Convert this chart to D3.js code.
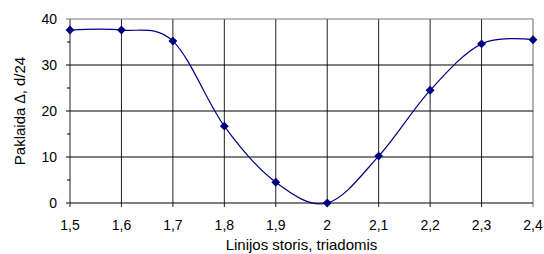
<!DOCTYPE html>
<html>
<head>
<meta charset="utf-8">
<script src="https://cdn.jsdelivr.net/npm/d3@7"></script>
<style>
  body { margin: 0; background: #fff; }
  text { font-family: "Liberation Sans", Arial, sans-serif; fill: #000; }
</style>
</head>
<body>
<script>
// values
var thickness = [1.5, 1.6, 1.7, 1.8, 1.9, 2.0, 2.1, 2.2, 2.3, 2.4]
  , error = [37.6, 37.6, 35.2, 16.7, 4.5, 0, 10.2, 24.5, 34.6, 35.5]
  , yTicks = [0, 10, 20, 30, 40]
  , yMinor = [5, 15, 25, 35]
  ;

var width = 544
  , height = 254
  , mLeft = 70
  , mRight = 533
  , mTop = 19
  , mBottom = 203
  , navy = "#000080"
  , fs = 14      // tick labels
  , fsTitle = 15 // axis titles
  ;

var svg = d3.select("body").append("svg").attr("width", width).attr("height", height);

var x = d3.scaleLinear().domain([1.5, 2.4]).range([mLeft, mRight]);
var y = d3.scaleLinear().domain([0, 40]).range([mBottom, mTop]);

var fmt = function (d) { return String(+d.toFixed(1)).replace(".", ","); };

// vertical grid
svg.append("g").selectAll("line").data(thickness).join("line")
    .attr("x1", d => x(d)).attr("x2", d => x(d))
    .attr("y1", mTop).attr("y2", mBottom + 4)
    .attr("stroke", (d, i) => i == thickness.length - 1 ? "#666" : "#222")
    .attr("stroke-width", 1);

// horizontal grid
svg.append("g").selectAll("line").data(yTicks).join("line")
    .attr("x1", mLeft - 4).attr("x2", mRight)
    .attr("y1", d => y(d)).attr("y2", d => y(d))
    .attr("stroke", d => d == 40 ? "#777" : "#000").attr("stroke-width", 1);

// minor ticks on y axis
svg.append("g").selectAll("line").data(yMinor).join("line")
    .attr("x1", mLeft - 3).attr("x2", mLeft)
    .attr("y1", d => y(d)).attr("y2", d => y(d))
    .attr("stroke", "#000");

// y labels
svg.append("g").selectAll("text").data(yTicks).join("text")
    .attr("x", mLeft - 13).attr("y", d => y(d) + 5)
    .attr("text-anchor", "end").attr("font-size", fs)
    .text(d => d);

// x labels
svg.append("g").selectAll("text").data(thickness).join("text")
    .attr("x", d => x(d)).attr("y", 230)
    .attr("text-anchor", "middle").attr("font-size", fs)
    .text(fmt);

svg.append("text")
    .attr("x", (mLeft + mRight) / 2).attr("y", 250)
    .attr("text-anchor", "middle").attr("font-size", fsTitle)
    .text("Linijos storis, triadomis");

var yt = svg.append("text")
    .attr("transform", "translate(25," + ((mTop + mBottom) / 2) + ") rotate(-90)")
    .attr("text-anchor", "middle").attr("font-size", fsTitle);
yt.append("tspan").text("Paklaida ");
yt.append("tspan").attr("font-style", "italic").text("\u2206");
yt.append("tspan").text(", d/24");

// the smoothed series
var pts = thickness.map((t, i) => [t, error[i]]);

var line = d3.line()
    .x(d => x(d[0])).y(d => y(d[1]))
    .curve(d3.curveCardinal.tension(0));

svg.append("path").datum(pts)
    .attr("d", line)
    .attr("fill", "none").attr("stroke", navy).attr("stroke-width", 1.2);

var diamond = d3.symbol().type(d3.symbolDiamond2).size(50);
svg.append("g").selectAll("path").data(pts).join("path")
    .attr("transform", d => "translate(" + x(d[0]) + "," + y(d[1]) + ")")
    .attr("d", diamond)
    .attr("fill", navy);
</script>
</body>
</html>
